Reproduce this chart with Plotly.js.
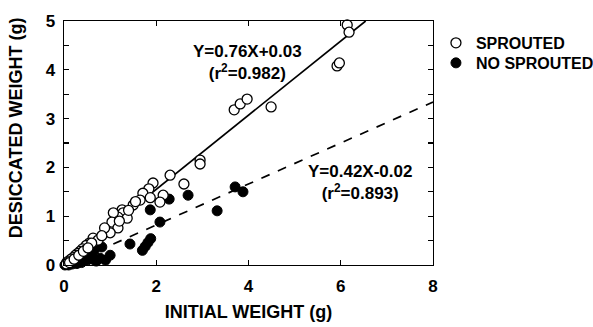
<!DOCTYPE html>
<html>
<head>
<meta charset="utf-8">
<script src="https://cdn.plot.ly/plotly-3.0.1.min.js"></script>
<style>html,body{margin:0;padding:0;background:#fff;}#chart{width:593px;height:327px;}</style>
</head>
<body>
<div id="chart"></div>
<script>
// Sprouted (open circles)
var sproutedX = [6.14,6.18,5.92,5.97,4.49,3.69,3.82,3.97,2.95,2.95,2.30,2.60,1.93,1.84,1.71,1.65,2.15,2.08,1.87,1.50,1.26,1.28,1.17,1.37,1.07,1.04,1.17,1.00,0.88,0.63,0.74,0.55,0.48,0.40,0.35,0.30,0.25,0.20,0.15,0.10,0.06,0.45,0.60,1.40,1.55,1.20,0.82,0.05,0.12,0.22,0.32,0.42,0.52];
var sproutedY = [4.92,4.77,4.08,4.14,3.24,3.18,3.30,3.40,2.15,2.07,1.84,1.66,1.68,1.56,1.47,1.33,1.43,1.29,1.38,1.23,1.13,1.07,0.98,0.96,1.07,0.88,0.76,0.66,0.76,0.55,0.51,0.45,0.40,0.33,0.28,0.24,0.20,0.15,0.12,0.08,0.05,0.30,0.45,1.12,1.30,0.90,0.60,0.02,0.05,0.12,0.20,0.28,0.35];
// No sprouted (filled circles)
var noSproutedX = [3.71,3.88,3.32,2.69,2.28,1.87,2.08,1.70,1.76,1.82,1.88,1.43,1.00,0.82,0.78,0.62,0.50,0.40,0.30,0.20,0.12,0.08,0.05,0.35,0.55,0.65,0.25,0.15,0.45,0.02,0.10,0.18,0.28,0.38,0.60,0.70,0.90];
var noSproutedY = [1.60,1.50,1.11,1.43,1.35,1.13,0.88,0.30,0.38,0.46,0.54,0.43,0.20,0.37,0.14,0.12,0.10,0.15,0.08,0.05,0.04,0.02,0.01,0.20,0.25,0.30,0.12,0.06,0.18,0.00,0.00,0.02,0.03,0.05,0.18,0.08,0.10];
// Regression fits: slope, intercept, x extent
var fitSlope = [0.76, 0.42];
var fitIntercept = [0.03, -0.02];
var fitXmax = [6.54, 8];
var seriesNames = ['SPROUTED', 'NO SPROUTED'];
var fitLabels = ['Y=0.76X+0.03<br>(r<sup>2</sup>=0.982)', 'Y=0.42X-0.02<br>(r<sup>2</sup>=0.893)'];
var xTicks = [0, 2, 4, 6, 8];
var yTicks = [0, 1, 2, 3, 4, 5];
var xTitle = 'INITIAL WEIGHT (g)';
var yTitle = 'DESICCATED WEIGHT (g)';

var F = 'Liberation Sans, Arial, Helvetica, sans-serif';
var traces = [];
[0, 1].forEach(function (i) {
  traces.push({
    x: [0, fitXmax[i]],
    y: [fitIntercept[i], fitSlope[i] * fitXmax[i] + fitIntercept[i]],
    mode: 'lines', showlegend: false, hoverinfo: 'skip',
    line: {color: '#000', width: 1.7, dash: i === 0 ? 'solid' : 'dash'}
  });
});
traces.push({
  x: noSproutedX, y: noSproutedY, mode: 'markers', name: seriesNames[1], legend: 'legend2',
  marker: {symbol: 'circle', size: 10, color: '#000', line: {color: '#000', width: 1}},
  cliponaxis: false
});
traces.push({
  x: sproutedX, y: sproutedY, mode: 'markers', name: seriesNames[0], legend: 'legend',
  marker: {symbol: 'circle', size: 10, color: '#fff', line: {color: '#000', width: 1.3}},
  cliponaxis: false
});

var axisCommon = {
  showline: true, linecolor: '#000', linewidth: 1.4, mirror: 'ticks',
  ticks: 'inside', ticklen: 5, tickwidth: 1.2, tickcolor: '#000',
  showgrid: false, zeroline: false, automargin: false,
  tickfont: {family: F, size: 17, color: '#000', weight: 'bold'}
};
var legendCommon = {
  xanchor: 'left', yanchor: 'middle',
  font: {family: F, size: 16, color: '#000', weight: 'bold'},
  itemwidth: 30, bgcolor: 'rgba(0,0,0,0)'
};

var layout = {
  width: 593, height: 327,
  margin: {l: 64, r: 160, t: 21, b: 62, autoexpand: false},
  paper_bgcolor: '#fff', plot_bgcolor: '#fff',
  font: {family: F, color: '#000'},
  xaxis: Object.assign({}, axisCommon, {
    range: [0, 8], tickvals: xTicks, ticktext: xTicks.map(String), ticklabelstandoff: 5,
    title: {text: xTitle, font: {family: F, size: 18, color: '#000', weight: 'bold'}, standoff: 10}
  }),
  yaxis: Object.assign({}, axisCommon, {
    range: [0, 5], tickvals: yTicks, ticktext: yTicks.map(String), ticklabelstandoff: 4,
    minor: {dtick: 0.5, ticks: 'inside', ticklen: 5, tickcolor: '#000', tickwidth: 1.2}
  }),
  legend: Object.assign({}, legendCommon, {x: 1.008, y: 0.91}),
  legend2: Object.assign({}, legendCommon, {x: 1.008, y: 0.828}),
  annotations: [
    {x: 3.97, y: 4.15, xref: 'x', yref: 'y', text: fitLabels[0], showarrow: false,
     font: {family: F, size: 17, color: '#000', weight: 'bold'}, align: 'center'},
    {x: 6.42, y: 1.70, xref: 'x', yref: 'y', text: fitLabels[1], showarrow: false,
     font: {family: F, size: 17, color: '#000', weight: 'bold'}, align: 'center'},
    {x: -0.13, y: 0.561, xref: 'paper', yref: 'paper', text: yTitle, textangle: -90, showarrow: false,
     xanchor: 'center', yanchor: 'middle',
     font: {family: F, size: 18, color: '#000', weight: 'bold'}}
  ],
  showlegend: true
};

Plotly.newPlot('chart', traces, layout, {displayModeBar: false, staticPlot: true});
</script>
</body>
</html>
